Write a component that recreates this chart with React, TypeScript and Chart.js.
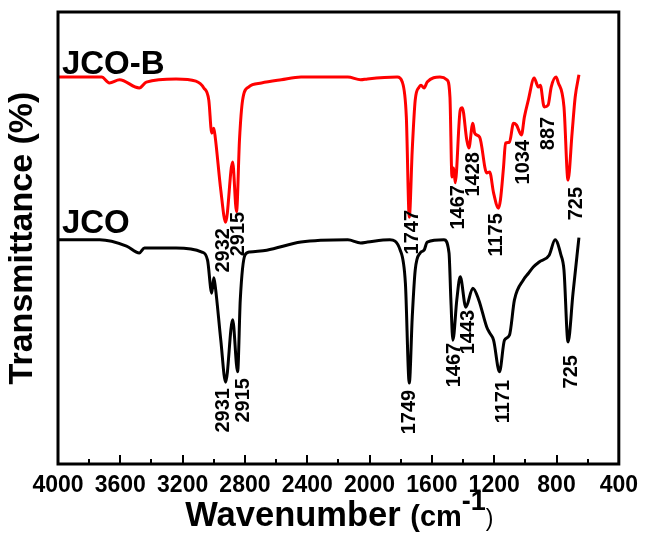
import React, { useEffect, useRef } from 'react';
import { Chart, registerables } from 'chart.js';

Chart.register(...registerables);

// ---- data (wavenumber in cm-1, transmittance in arbitrary %) ----
const jcoBWavenumbers = [4000, 3720, 3670, 3605, 3478, 3433, 3242, 3115, 3064, 3032, 3013, 3000, 2990, 2955, 2924, 2879, 2854, 2835, 2815, 2777, 2694, 2567, 2440, 2140, 2057, 2013, 1822, 1790, 1764, 1745, 1726, 1707, 1682, 1670, 1650, 1630, 1548, 1503, 1484, 1471, 1460, 1450, 1418, 1405, 1376, 1363, 1337, 1325, 1293, 1248, 1229, 1204, 1172, 1160, 1140, 1127, 1102, 1076, 1057, 1025, 1006, 981, 943, 917, 904, 879, 854, 834, 803, 790, 752, 726, 700, 680, 656];
const jcoBValues = [85.6, 85.6, 84.3, 85.0, 83.2, 84.5, 85.2, 84.7, 83.2, 80.5, 73.2, 74.3, 72.1, 60.6, 53.5, 66.8, 55.8, 71.7, 80.5, 83.4, 84.3, 85.0, 85.6, 85.6, 85.0, 85.2, 85.6, 84.5, 76.8, 54.6, 69.5, 80.5, 83.4, 83.8, 83.2, 84.5, 85.6, 85.0, 81.2, 63.5, 65.5, 62.2, 78.3, 78.8, 71.7, 69.9, 75.4, 73.2, 72.3, 64.4, 64.6, 60.0, 56.6, 58.4, 65.7, 71.0, 71.2, 75.4, 75.0, 72.8, 76.8, 80.5, 85.4, 83.4, 83.8, 79.0, 79.4, 83.4, 85.6, 84.5, 79.0, 62.8, 73.2, 81.2, 86.1];

const jcoWavenumbers = [4000, 3732, 3560, 3478, 3445, 3242, 3076, 3040, 3013, 3000, 2990, 2955, 2924, 2879, 2847, 2830, 2800, 2770, 2660, 2440, 2140, 2057, 2013, 1870, 1803, 1770, 1745, 1726, 1707, 1675, 1650, 1630, 1522, 1490, 1478, 1465, 1440, 1418, 1382, 1337, 1299, 1248, 1229, 1204, 1166, 1134, 1102, 1070, 1013, 980, 949, 911, 847, 809, 771, 752, 726, 694, 656];
const jcoValues = [49.6, 49.6, 48.2, 46.7, 47.8, 47.8, 46.9, 45.1, 37.8, 41.2, 39.2, 27.4, 18.1, 31.9, 20.4, 36.3, 46.2, 46.9, 47.3, 49.1, 49.6, 48.9, 49.1, 49.6, 47.3, 40.0, 17.9, 32.5, 42.9, 46.7, 47.3, 49.1, 49.6, 46.7, 36.3, 27.4, 36.3, 41.4, 34.7, 38.9, 36.3, 30.3, 29.0, 27.4, 20.4, 27.4, 28.5, 36.3, 40.7, 42.2, 43.6, 44.7, 46.2, 49.6, 46.2, 42.9, 27.0, 37.8, 50.1];

// peak annotations: text, wavenumber of label centre, value at label's upper end
const jcoBPeakLabels = ['2932', '2915', '1747', '1467', '1428', '1175', '1034', '887', '725'];
const jcoBPeakX = [2936, 2840, 1725, 1426, 1330, 1184, 1012, 852, 674];
const jcoBPeakTop = [52.2, 55.8, 56.2, 61.7, 69.0, 55.5, 71.7, 76.8, 61.3];

const jcoPeakLabels = ['2931', '2915', '1749', '1467', '1443', '1171', '725'];
const jcoPeakX = [2936, 2808, 1744, 1458, 1362, 1139, 706];
const jcoPeakTop = [16.8, 19.0, 16.4, 26.8, 34.1, 18.6, 24.1];

const seriesNames = ['JCO-B', 'JCO'];
const seriesColors = ['#ff0000', '#000000'];
const seriesNameX = [3975, 3975];
const seriesNameY = [86.3, 51.1];

const xMin = 400;
const xMax = 4000;
const xMajorStep = 400;
const xMinorStep = 200;
const yMin = 0;
const yMax = 100;

const FONT = '"Liberation Sans", Arial, Helvetica, sans-serif';

const toPoints = (xs: number[], ys: number[]) => xs.map((x, i) => ({ x, y: ys[i] }));

const decorPlugin = {
  id: 'decor',
  afterDatasetsDraw(chart: any) {
    const { ctx, chartArea: a, scales } = chart;
    const x = scales.x;
    const y = scales.y;
    ctx.save();

    // frame
    ctx.strokeStyle = '#000';
    ctx.lineWidth = 3;
    ctx.strokeRect(a.left, a.top, a.right - a.left, a.bottom - a.top);

    // inward ticks on bottom axis
    ctx.lineWidth = 2;
    for (let v = xMin; v <= xMax; v += xMinorStep) {
      const px = Math.round(x.getPixelForValue(v));
      const len = v % xMajorStep === 0 ? 9 : 5;
      ctx.beginPath();
      ctx.moveTo(px, a.bottom);
      ctx.lineTo(px, a.bottom - len);
      ctx.stroke();
    }

    // rotated peak labels
    ctx.fillStyle = '#000';
    ctx.font = `bold 20px ${FONT}`;
    ctx.textAlign = 'right';
    ctx.textBaseline = 'middle';
    const drawRot = (t: string, wx: number, wy: number) => {
      ctx.save();
      ctx.translate(x.getPixelForValue(wx), y.getPixelForValue(wy));
      ctx.rotate(-Math.PI / 2);
      ctx.fillText(t, 0, 0);
      ctx.restore();
    };
    jcoBPeakLabels.forEach((t, i) => drawRot(t, jcoBPeakX[i], jcoBPeakTop[i]));
    jcoPeakLabels.forEach((t, i) => drawRot(t, jcoPeakX[i], jcoPeakTop[i]));

    // series names
    ctx.font = `bold 33px ${FONT}`;
    ctx.textAlign = 'left';
    ctx.textBaseline = 'alphabetic';
    seriesNames.forEach((t, i) => {
      ctx.fillText(t, x.getPixelForValue(seriesNameX[i]), y.getPixelForValue(seriesNameY[i]));
    });

    // x-axis title with superscript
    const parts = [
      { t: 'Wavenumber ', f: `bold 34.5px ${FONT}`, dy: 0 },
      { t: '(cm', f: `bold 29px ${FONT}`, dy: 0 },
      { t: '-1', f: `bold 27px ${FONT}`, dy: -16 },
      { t: ')', f: `23px ${FONT}`, dy: 0 },
    ];
    let total = 0;
    const widths = parts.map((p) => {
      ctx.font = p.f;
      const w = ctx.measureText(p.t).width;
      total += w;
      return w;
    });
    let cx = (a.left + a.right) / 2 + 1 - total / 2;
    const baseY = 526;
    parts.forEach((p, i) => {
      ctx.font = p.f;
      ctx.fillText(p.t, cx, baseY + p.dy);
      cx += widths[i];
    });

    ctx.restore();
  },
};

export default function App() {
  const canvasRef = useRef<HTMLCanvasElement>(null);

  useEffect(() => {
    const canvas = canvasRef.current;
    if (!canvas) return;
    const lineStyle = {
      borderWidth: 3,
      pointRadius: 0,
      cubicInterpolationMode: 'monotone',
      fill: false,
    };
    const chart = new Chart(canvas, {
      type: 'line',
      data: {
        datasets: [
          {
            label: seriesNames[0],
            data: toPoints(jcoBWavenumbers, jcoBValues),
            borderColor: seriesColors[0],
            ...lineStyle,
          },
          {
            label: seriesNames[1],
            data: toPoints(jcoWavenumbers, jcoValues),
            borderColor: seriesColors[1],
            ...lineStyle,
          },
        ],
      },
      options: {
        responsive: false,
        animation: false,
        layout: { padding: { top: 12, right: 23, left: 0, bottom: 0 } },
        plugins: {
          legend: { display: false },
          tooltip: { enabled: false },
        },
        scales: {
          x: {
            type: 'linear',
            reverse: true,
            min: xMin,
            max: xMax,
            afterFit: (s: any) => {
              s.height = 70;
            },
            grid: { display: false, drawTicks: false },
            border: { display: false },
            ticks: {
              stepSize: xMinorStep,
              autoSkip: false,
              maxRotation: 0,
              padding: 8,
              color: '#000',
              font: { family: FONT, size: 23, weight: 'bold' },
              callback: (v: any) => (Number(v) % xMajorStep === 0 ? String(v) : ''),
            },
          },
          y: {
            type: 'linear',
            min: yMin,
            max: yMax,
            afterFit: (s: any) => {
              s.width = 58;
            },
            grid: { display: false, drawTicks: false },
            border: { display: false },
            ticks: { display: false },
            title: {
              display: true,
              text: 'Transmittance (%)',
              color: '#000',
              font: { family: FONT, size: 34, weight: 'bold' },
              padding: { top: 2, bottom: 0 },
            },
          },
        },
      },
      plugins: [decorPlugin],
    } as any);
    return () => chart.destroy();
  }, []);

  return (
    <canvas
      ref={canvasRef}
      width={646}
      height={534}
      style={{ position: 'absolute', left: 0, top: 0, display: 'block' }}
    />
  );
}
